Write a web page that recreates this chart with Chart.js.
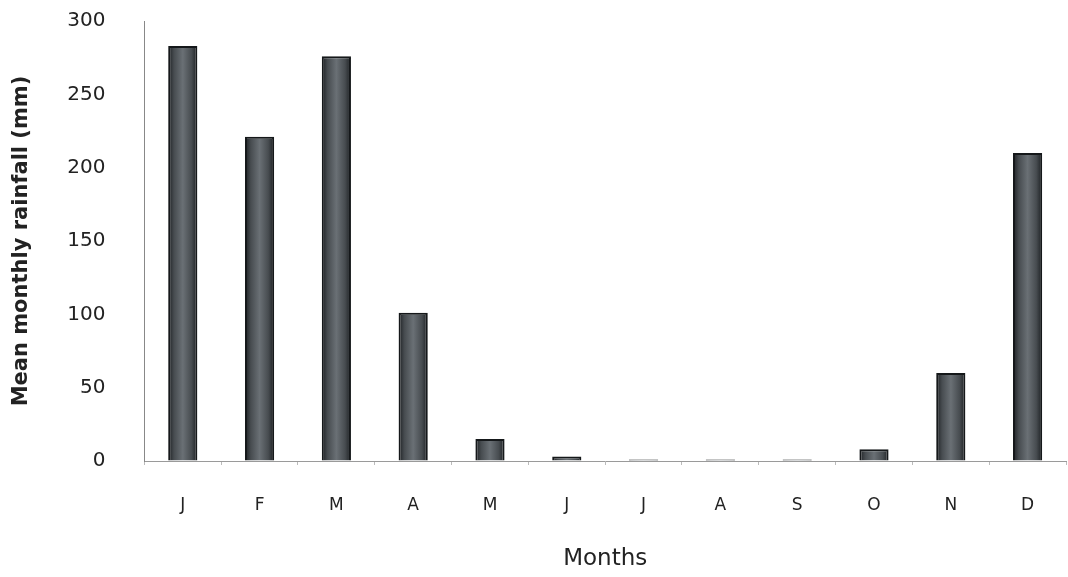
<!DOCTYPE html>
<html>
<head>
<meta charset="utf-8">
<script src="https://cdn.jsdelivr.net/npm/chart.js@4.4.1/dist/chart.umd.min.js"></script>
<style>
  html, body { margin: 0; padding: 0; background: #fff; }
  #wrap { width: 1068px; height: 577px; }
</style>
</head>
<body>
<div id="wrap"><canvas id="chart"></canvas></div>
<script>
const months = ["J", "F", "M", "A", "M", "J", "J", "A", "S", "O", "N", "D"];
const rainfall = [283, 221, 276, 101, 15, 3, 1, 1, 1, 8, 60, 210];
const yTicks = [0, 50, 100, 150, 200, 250, 300];
const barPct = 0.38;

const ctx = document.getElementById("chart").getContext("2d");

// darker edges, lighter middle, like the scanned bars
function barFill(context) {
    const chart = context.chart;
    const xs = chart.scales && chart.scales.x;
    if (!chart.chartArea || !xs) return "#4d5256";
    const cx = xs.getPixelForValue(context.dataIndex);
    const w = (xs.width / months.length) * barPct;
    if (!isFinite(cx) || !isFinite(w) || w <= 0) return "#4d5256";
    const g = chart.ctx.createLinearGradient(cx - w / 2, 0, cx + w / 2, 0);
    g.addColorStop(0, "#1c1f22");
    g.addColorStop(0.2, "#474c50");
    g.addColorStop(0.5, "#6a7075");
    g.addColorStop(0.8, "#474c50");
    g.addColorStop(1, "#1c1f22");
    return g;
}

new Chart(ctx, {
    type: "bar",
    data: {
        labels: months,
        datasets: [{
            label: "Mean monthly rainfall",
            data: rainfall,
            backgroundColor: barFill,
            borderColor: "#15181a",
            borderWidth: 2,
            barPercentage: barPct,
            categoryPercentage: 1.0
        }]
    },
    options: {
        responsive: true,
        maintainAspectRatio: false,
        animation: false,
        layout: { padding: { top: 4, right: 2, left: 9, bottom: 4 } },
        plugins: {
            legend: { display: false },
            tooltip: { enabled: false }
        },
        scales: {
            x: {
                grid: { display: true, drawOnChartArea: false, drawTicks: true, tickLength: 4, color: "#bbb", offset: true },
                border: { display: true, color: "#9a9a9a", dash: [4, 4], width: 1 },
                ticks: {
                    color: "#222",
                    padding: 30,
                    font: { family: "DejaVu Sans", size: 17 }
                },
                title: {
                    display: true,
                    text: "Months",
                    color: "#222",
                    padding: { top: 0, bottom: 0 },
                    font: { family: "DejaVu Sans", size: 23 }
                }
            },
            y: {
                min: 0,
                max: 300,
                afterBuildTicks: axis => { axis.ticks = yTicks.map(v => ({ value: v })); },
                grid: { drawOnChartArea: false, drawTicks: true, tickLength: 30, tickColor: "rgba(0,0,0,0)" },
                border: { display: true, color: "#888", dash: [3, 2], width: 1 },
                ticks: {
                    color: "#222",
                    padding: 9,
                    font: { family: "DejaVu Sans", size: 20 }
                },
                title: {
                    display: true,
                    text: "Mean monthly rainfall (mm)",
                    color: "#222",
                    padding: { top: 0, bottom: 24 },
                    font: { family: "DejaVu Sans", size: 21, weight: "bold" }
                }
            }
        }
    }
});
</script>
</body>
</html>
